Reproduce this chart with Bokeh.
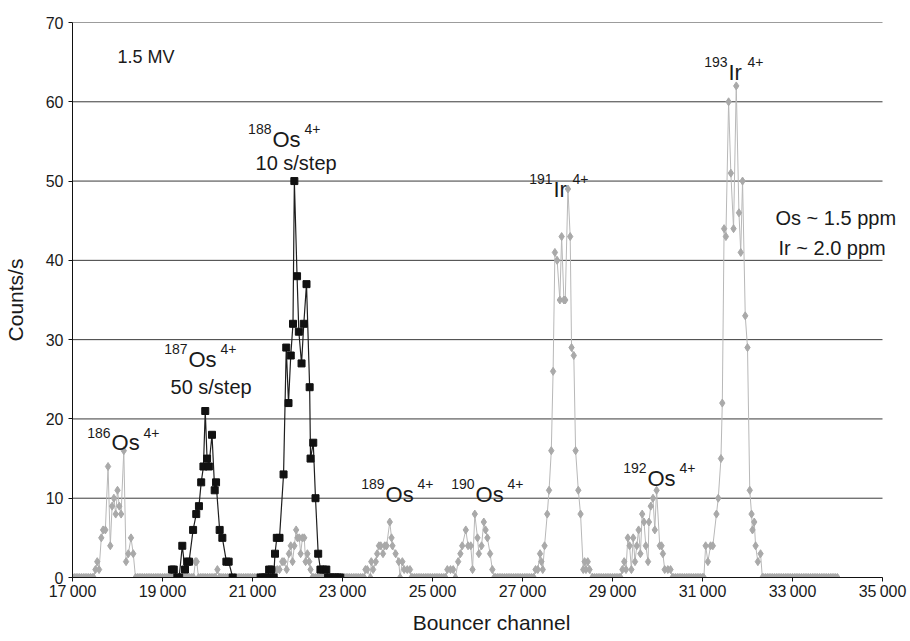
from bokeh.plotting import figure
from bokeh.models import Label, FixedTicker, Range1d
from bokeh.embed import file_html
from bokeh.resources import INLINE

# ---------------- axis ticks ----------------
x_ticks = [17000, 19000, 21000, 23000, 25000, 27000, 29000, 31000, 33000, 35000]
x_tick_labels = ["17\u2009000", "19\u2009000", "21\u2009000", "23\u2009000", "25\u2009000",
                 "27\u2009000", "29\u2009000", "31\u2009000", "33\u2009000", "35\u2009000"]
y_ticks = [0, 10, 20, 30, 40, 50, 60, 70]
X_MIN, X_MAX = 17000, 35000

# ---------------- gray scan (diamonds) ----------------
GRAY_SCAN_START = 17000
GRAY_SCAN_END = 34000
GRAY_SCAN_STEP = 40

gray_186_ch = [17470, 17510, 17550, 17590, 17640, 17680, 17730, 17790, 17840, 17880, 17920,
               17960, 18000, 18040, 18080, 18140, 18190, 18240, 18300, 18350, 18400]
gray_186_ct = [0, 1, 2, 1, 5, 6, 6, 14, 4, 9, 10, 8, 11, 9, 8, 16, 2, 3, 5, 3, 0]

gray_187a_ch = [19690, 19730, 19760, 19800]
gray_187a_ct = [0, 2, 2, 0]
gray_187b_ch = [20180, 20220, 20260]
gray_187b_ct = [0, 1, 0]

gray_188_ch = [21510, 21550, 21600, 21660, 21700, 21760, 21810, 21850, 21890, 21930, 21970,
               22000, 22040, 22070, 22110, 22150, 22180, 22220, 22260, 22290, 22330]
gray_188_ct = [0, 1, 1, 2, 2, 1, 3, 4, 2, 4, 6, 5, 5, 3, 5, 5, 2, 3, 2, 1, 0]

gray_189_ch = [23480, 23510, 23550, 23620, 23640, 23680, 23740, 23770, 23810, 23850, 23900,
               23940, 23980, 24050, 24090, 24110, 24180, 24250, 24280, 24330, 24370, 24440,
               24500, 24530]
gray_189_ct = [0, 1, 1, 0, 2, 1, 2, 3, 4, 4, 3, 4, 4, 7, 5, 4, 3, 2, 0, 2, 1, 1, 1, 0]

gray_190_ch = [25290, 25330, 25400, 25460, 25510, 25570, 25620, 25660, 25740, 25790, 25850,
               25890, 25940, 26000, 26030, 26090, 26140, 26180, 26220, 26280, 26330, 26370]
gray_190_ct = [0, 1, 1, 1, 0, 2, 3, 4, 6, 4, 4, 1, 8, 5, 3, 4, 7, 6, 5, 3, 1, 0]

gray_191_ch = [27250, 27290, 27340, 27390, 27420, 27450, 27490, 27550, 27590, 27640, 27680,
               27720, 27770, 27830, 27870, 27920, 27950, 28010, 28060, 28090, 28140, 28180,
               28240, 28290, 28350, 28380, 28410, 28450, 28490, 28550]
gray_191_ct = [0, 1, 1, 3, 2, 1, 4, 8, 11, 16, 26, 41, 40, 35, 43, 35, 35, 49, 43, 29, 28,
               16, 11, 8, 1, 2, 1, 2, 1, 0]

gray_192_ch = [29180, 29220, 29260, 29300, 29340, 29380, 29420, 29460, 29500, 29540, 29580,
               29620, 29660, 29700, 29740, 29790, 29810, 29850, 29900, 29940, 29980, 30050,
               30090, 30120, 30160, 30230, 30290, 30330]
gray_192_ct = [0, 1, 2, 1, 5, 4, 1, 5, 2, 4, 6, 3, 8, 7, 4, 2, 7, 9, 10, 6, 11, 4, 4, 3,
               1, 1, 1, 0]

gray_193_ch = [31030, 31070, 31120, 31180, 31230, 31310, 31350, 31410, 31440, 31480, 31520,
               31580, 31630, 31690, 31750, 31810, 31850, 31890, 31950, 32000, 32050, 32090,
               32110, 32150, 32180, 32230, 32290, 32330]
gray_193_ct = [0, 4, 2, 4, 4, 8, 10, 15, 22, 44, 43, 60, 51, 44, 62, 46, 41, 50, 33, 29, 11,
               8, 6, 7, 4, 2, 3, 0]

# ---------------- black scans (squares) ----------------
black_187_ch = [19210, 19250, 19330, 19370, 19440, 19500, 19550, 19590, 19680, 19750, 19810,
                19860, 19910, 19950, 19990, 20030, 20100, 20160, 20190, 20270, 20330, 20420,
                20470, 20560]
black_187_ct = [1, 1, 0, 0, 4, 1, 2, 2, 6, 8, 9, 12, 14, 21, 15, 14, 18, 11, 12, 6, 5, 2, 2, 0]

black_188_ch = [21180, 21230, 21290, 21340, 21370, 21420, 21470, 21500, 21540, 21600, 21690,
                21750, 21800, 21850, 21900, 21930, 21990, 22030, 22090, 22140, 22200, 22270,
                22290, 22350, 22400, 22460, 22510, 22570, 22640, 22680, 22730, 22790, 22840,
                22900, 22950]
black_188_ct = [0, 0, 0, 0, 1, 1, 0, 3, 5, 5, 13, 29, 22, 28, 32, 50, 38, 31, 27, 32, 37, 24,
                15, 17, 10, 3, 1, 1, 1, 0, 0, 0, 0, 0, 0]

# ---------------- build gray series ----------------
gray_regions = [(gray_186_ch, gray_186_ct), (gray_187a_ch, gray_187a_ct),
                (gray_187b_ch, gray_187b_ct), (gray_188_ch, gray_188_ct),
                (gray_189_ch, gray_189_ct), (gray_190_ch, gray_190_ct),
                (gray_191_ch, gray_191_ct), (gray_192_ch, gray_192_ct),
                (gray_193_ch, gray_193_ct)]
pts = []
for c in range(GRAY_SCAN_START, GRAY_SCAN_END + 1, GRAY_SCAN_STEP):
    if not any(min(ch) <= c <= max(ch) for ch, _ in gray_regions):
        pts.append((c, 0))
for ch, ct in gray_regions:
    pts.extend(zip(ch, ct))
pts.sort()
gray_x = [a for a, _ in pts]
gray_y = [b for _, b in pts]

# ---------------- figure ----------------
FONT = "Liberation Sans"
TXT = "#1a1a1a"

# frame runs to the right edge so the ppm note can overhang the last tick
x_end = X_MAX + (X_MAX - X_MIN) * 28 / 810
p = figure(width=910, height=641, x_range=Range1d(X_MIN, x_end), y_range=Range1d(0, 70),
           output_backend="svg", toolbar_location=None,
           min_border_left=72, min_border_right=0, min_border_top=22, min_border_bottom=64)
p.outline_line_color = None
p.background_fill_color = "white"
p.border_fill_color = "white"
p.xgrid.grid_line_color = None
p.ygrid.grid_line_color = None

# horizontal grid lines spanning the axis extent only
p.segment(x0=X_MIN, x1=X_MAX, y0=y_ticks, y1=y_ticks, line_color="#3a3a3a", line_width=1)

p.xaxis.ticker = FixedTicker(ticks=x_ticks)
p.xaxis.major_label_overrides = dict(zip(x_ticks, x_tick_labels))
p.xaxis.bounds = (X_MIN, X_MAX)
p.yaxis.ticker = FixedTicker(ticks=y_ticks)
for ax in (p.xaxis, p.yaxis):
    ax.axis_line_color = "#111111"
    ax.major_tick_line_color = "#111111"
    ax.major_tick_in = 0
    ax.major_tick_out = 4
    ax.minor_tick_line_color = None
    ax.major_label_text_font = FONT
    ax.major_label_text_font_size = "16px"
    ax.major_label_text_color = TXT
    ax.axis_label_text_font = FONT
    ax.axis_label_text_font_size = "21px"
    ax.axis_label_text_font_style = "normal"
    ax.axis_label_text_color = TXT
p.xaxis.axis_label = "Bouncer channel"
p.yaxis.axis_label = "Counts/s"
p.xaxis.major_label_standoff = 1
p.xaxis.axis_label_standoff = 8
p.yaxis.major_label_standoff = 5
p.yaxis.axis_label_standoff = 16

# gray series
p.line(gray_x, gray_y, line_color="#b8b8b8", line_width=1)
p.scatter(gray_x, gray_y, marker="diamond", size=8, fill_color="#a9a9a9",
          line_color="#a9a9a9")

# black series
for bx, by in ((black_187_ch, black_187_ct), (black_188_ch, black_188_ct)):
    p.line(bx, by, line_color="#1e1e1e", line_width=1.2)
    p.scatter(bx, by, marker="square", size=7, fill_color="#111111", line_color="#111111")


# ---------------- annotations ----------------
def add_text(x, y, text, size, align="left", xo=0, yo=0):
    p.add_layout(Label(x=x, y=y, text=text, x_offset=xo, y_offset=yo,
                       text_font=FONT, text_font_size=f"{size}px", text_align=align,
                       text_baseline="alphabetic", text_color=TXT))


def isotope(x, y, mass, elem, charge, charge_dx):
    add_text(x, y, mass, 14, align="right", xo=-1, yo=10)
    add_text(x, y, elem, 22)
    add_text(x, y, charge, 14, xo=charge_dx, yo=10)


add_text(18000, 65.6, "1.5 MV", 18)
isotope(17867, 17.0, "186", "Os", "4+", 32)
isotope(19578, 27.5, "187", "Os", "4+", 32)
add_text(19178, 24.0, "50 s/step", 20)
isotope(21444, 55.3, "188", "Os", "4+", 32)
add_text(21067, 52.3, "10 s/step", 20)
isotope(23956, 10.5, "189", "Os", "4+", 32)
isotope(25956, 10.5, "190", "Os", "4+", 32)
isotope(27689, 49.0, "191", "Ir", "4+", 19)
isotope(29778, 12.5, "192", "Os", "4+", 32)
isotope(31578, 63.7, "193", "Ir", "4+", 19)
add_text(32622, 45.4, "Os ~ 1.5 ppm", 20)
add_text(32689, 41.5, "Ir ~ 2.0 ppm", 20)

open("out.html", "w").write(file_html(p, INLINE))
